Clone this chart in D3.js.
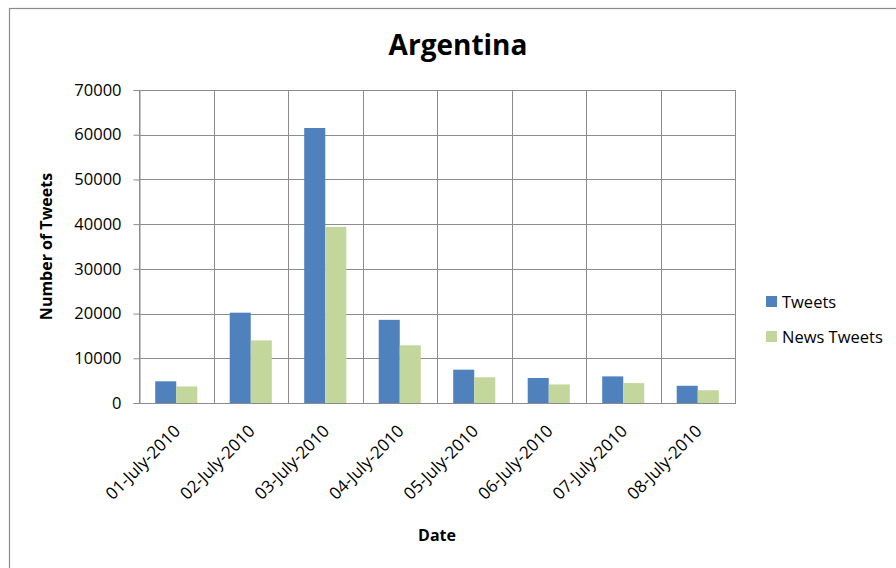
<!DOCTYPE html>
<html>
<head>
<meta charset="utf-8">
<script src="https://cdn.jsdelivr.net/npm/d3@7"></script>
<style>
  html, body { margin: 0; padding: 0; background: #fff; }
  svg { display: block; }
  text { font-family: "Open Sans", "Noto Sans", sans-serif; fill: #000; }
</style>
</head>
<body>
<svg id="chart" width="896" height="568"></svg>
<script>
// Daily tweet counts for Argentina, July 2010
const dates = ["01-July-2010", "02-July-2010", "03-July-2010", "04-July-2010",
               "05-July-2010", "06-July-2010", "07-July-2010", "08-July-2010"];
const seriesNames = ["Tweets", "News Tweets"];
const tweets     = [4850, 20200, 61500, 18600, 7450, 5600, 5950, 3850];
const newsTweets = [3700, 14000, 39400, 12900, 5750, 4150, 4450, 2850];
const yTicks = [0, 10000, 20000, 30000, 40000, 50000, 60000, 70000];
const colors = ["#4F81BD", "#C3D69B"];

const svg = d3.select("#chart");
const plot = { left: 139, top: 90, right: 735, bottom: 403 };

// Outer chart frame
svg.append("rect")
  .attr("x", 9.5).attr("y", 8.5)
  .attr("width", 1000).attr("height", 1000)
  .attr("fill", "#fff").attr("stroke", "#8c8c8c").attr("stroke-width", 1.2);

const x = d3.scaleBand().domain(dates).range([plot.left, plot.right]).padding(0);
const xs = d3.scaleBand().domain(seriesNames).range([0, x.bandwidth()])
  .paddingInner(0).paddingOuter(0.77);
const y = d3.scaleLinear().domain([0, 70000]).range([plot.bottom, plot.top]);

// Gridlines
const grid = svg.append("g").attr("stroke", "#8c8c8c").attr("stroke-width", 1);
grid.selectAll("line.h").data(yTicks).join("line")
  .attr("x1", plot.left).attr("x2", plot.right)
  .attr("y1", d => Math.round(y(d)) + 0.5).attr("y2", d => Math.round(y(d)) + 0.5);
const vlines = dates.map(d => x(d)).concat([plot.right]);
grid.selectAll("line.v").data(vlines).join("line")
  .attr("x1", d => Math.round(d) + 0.5).attr("x2", d => Math.round(d) + 0.5)
  .attr("y1", plot.top).attr("y2", plot.bottom);

// Bars
const rows = dates.map((d, i) => ({ date: d, values: [tweets[i], newsTweets[i]] }));
svg.append("g").selectAll("g").data(rows).join("g")
  .attr("transform", d => `translate(${x(d.date)},0)`)
  .selectAll("rect")
  .data(d => d.values.map((v, j) => ({ key: seriesNames[j], value: v, color: colors[j] })))
  .join("rect")
  .attr("x", d => xs(d.key))
  .attr("width", xs.bandwidth())
  .attr("y", d => y(d.value))
  .attr("height", d => y(0) - y(d.value))
  .attr("fill", d => d.color);

// Y axis
const yAxis = svg.append("g")
  .attr("transform", `translate(${plot.left + 0.5},0)`)
  .call(d3.axisLeft(y).tickValues(yTicks).tickFormat(d3.format("d")).tickSize(6).tickPadding(12));
yAxis.select(".domain").attr("stroke", "#8c8c8c");
yAxis.selectAll(".tick line").attr("stroke", "#8c8c8c");
yAxis.selectAll(".tick text").attr("font-size", 16.5).attr("fill", "#000")
  .style("font-family", "\"Open Sans\", sans-serif");

// Bottom axis line
svg.append("line")
  .attr("x1", plot.left).attr("x2", plot.right + 1)
  .attr("y1", plot.bottom + 0.5).attr("y2", plot.bottom + 0.5)
  .attr("stroke", "#8c8c8c");

// X labels, rotated
svg.append("g").selectAll("text").data(dates).join("text")
  .attr("transform", d => `translate(${x(d) + x.bandwidth() / 2 + 1},${plot.bottom + 25}) rotate(-45)`)
  .attr("text-anchor", "end")
  .attr("dy", "0.35em")
  .attr("font-size", 17)
  .text(d => d);

// Titles
svg.append("text")
  .attr("x", 458).attr("y", 55)
  .attr("text-anchor", "middle")
  .attr("font-size", 28).attr("font-weight", "bold")
  .text("Argentina");

svg.append("text")
  .attr("transform", `translate(52,${(plot.top + plot.bottom) / 2}) rotate(-90)`)
  .attr("text-anchor", "middle")
  .attr("font-size", 16).attr("font-weight", "bold")
  .text("Number of Tweets");

svg.append("text")
  .attr("x", (plot.left + plot.right) / 2).attr("y", 541)
  .attr("text-anchor", "middle")
  .attr("font-size", 16).attr("font-weight", "bold")
  .text("Date");

// Legend
const legend = svg.append("g").selectAll("g").data(seriesNames).join("g")
  .attr("transform", (d, i) => `translate(766,${296 + i * 35})`);
legend.append("rect").attr("width", 11).attr("height", 11)
  .attr("fill", (d, i) => colors[i]);
legend.append("text").attr("x", 16).attr("y", 11.5)
  .attr("font-size", 16.5).text(d => d);
</script>
</body>
</html>
